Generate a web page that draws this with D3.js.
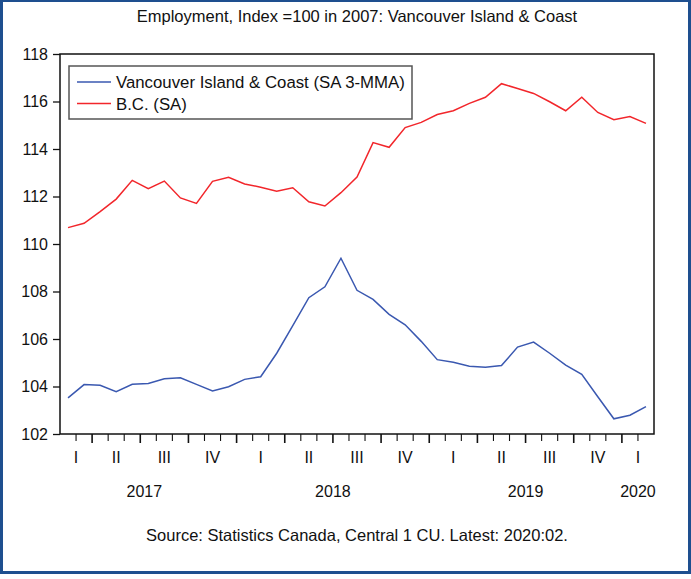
<!DOCTYPE html>
<html>
<head>
<meta charset="utf-8">
<script src="https://cdnjs.cloudflare.com/ajax/libs/d3/7.8.5/d3.min.js"></script>
<style>
  body { margin: 0; background: #fff; }
  text { font-family: "Liberation Sans", Arial, sans-serif; fill: #111; }
</style>
</head>
<body>
<div id="chart"></div>
<script>
var width = 691,
    height = 579;

// monthly, Feb 2017 .. Feb 2020
var startYear = 2017, startMonth = 2;
var islandValues = [103.52, 104.08, 104.05, 103.78, 104.09, 104.13, 104.33, 104.37, 104.09, 103.81,
  103.99, 104.30, 104.41, 105.40, 106.56, 107.74, 108.20, 109.40, 108.05, 107.67,
  107.04, 106.60, 105.90, 105.13, 105.02, 104.85, 104.81, 104.88, 105.66, 105.87,
  105.40, 104.90, 104.51, 103.57, 102.64, 102.79, 103.15];
var bcValues = [110.69, 110.87, 111.36, 111.89, 112.68, 112.33, 112.65, 111.94, 111.71, 112.64,
  112.81, 112.53, 112.39, 112.22, 112.37, 111.78, 111.60, 112.16, 112.82, 114.27,
  114.07, 114.90, 115.12, 115.45, 115.61, 115.92, 116.18, 116.75, 116.55, 116.34,
  115.99, 115.61, 116.18, 115.54, 115.23, 115.37, 115.08];
var seriesNames = ["Vancouver Island & Coast (SA 3-MMA)", "B.C. (SA)"];
var seriesColors = ["#3a58b0", "#f2262b"];
var yTicks = [102, 104, 106, 108, 110, 112, 114, 116, 118];
var quarterLabels = ["I", "II", "III", "IV"];
var titleText = "Employment, Index =100 in 2007: Vancouver Island & Coast";
var sourceText = "Source: Statistics Canada, Central 1 CU. Latest: 2020:02.";

var margin = {left: 60, right: 37, top: 54, bottom: 145};
var plotW = width - margin.left - margin.right,
    plotH = height - margin.top - margin.bottom;

var svg = d3.select("#chart")
    .append("svg")
    .attr("width", width)
    .attr("height", height);

// outer blue border
svg.append("rect")
    .attr("x", 1.5).attr("y", 0.5)
    .attr("width", 688).attr("height", 572)
    .attr("fill", "none")
    .attr("stroke", "#1e4f8f")
    .attr("stroke-width", 3);

var n = islandValues.length;
var x = d3.scaleLinear()
    .domain([-0.5, n - 0.5])
    .range([margin.left, margin.left + plotW]);
var y = d3.scaleLinear()
    .domain([102, 118])
    .range([margin.top + plotH, margin.top]);

svg.append("text")
    .attr("x", margin.left + plotW / 2)
    .attr("y", 22)
    .attr("text-anchor", "middle")
    .style("font-size", "16.5px")
    .text(titleText);

// y axis (ticks outside, left)
var yAxis = d3.axisLeft(y).tickValues(yTicks).tickSize(7).tickPadding(5);
var gy = svg.append("g")
    .attr("transform", "translate(" + margin.left + ",0)")
    .call(yAxis);
gy.select(".domain").remove();
gy.selectAll("line").attr("stroke", "#111").attr("stroke-width", 1.3);
gy.selectAll("text").style("font-size", "16px").style("font-family", "Liberation Sans, Arial, sans-serif").attr("fill", "#111");

// month boundary ticks along bottom
var bounds = d3.range(n - 1).map(function(i) { return i + 0.5; });
svg.selectAll(".mtick")
    .data(bounds)
    .enter().append("line")
    .attr("class", "mtick")
    .attr("x1", function(d) { return x(d); })
    .attr("x2", function(d) { return x(d); })
    .attr("y1", margin.top + plotH)
    .attr("y2", function(d) {
      var m = (startMonth - 1 + d + 0.5) % 3;
      return margin.top + plotH + (m === 0 ? 9 : 7);
    })
    .attr("stroke", "#111")
    .attr("stroke-width", function(d) {
      return (startMonth - 1 + d + 0.5) % 3 === 0 ? 1.6 : 1.1;
    });

// quarter and year labels
var months = d3.range(n).map(function(i) {
  var k = startMonth - 1 + i;
  return {i: i, year: startYear + Math.floor(k / 12), q: Math.floor((k % 12) / 3)};
});
var quarters = d3.groups(months, function(d) { return d.year + "-" + d.q; }).map(function(g) {
  return {q: g[1][0].q, c: d3.mean(g[1], function(d) { return d.i; })};
});
var years = d3.groups(months, function(d) { return d.year; }).map(function(g) {
  var c = d3.mean(g[1], function(d) { return d.i; });
  // first year is partly cut off: nudge toward the full-year centre
  if (g[1].length < 12 && g[1][0].i === 0) c -= (12 - g[1].length) / 4;
  return {year: g[0], c: c};
});

svg.selectAll(".qlabel")
    .data(quarters)
    .enter().append("text")
    .attr("class", "qlabel")
    .attr("x", function(d) { return x(d.c); })
    .attr("y", 463)
    .attr("text-anchor", "middle")
    .style("font-size", "16px")
    .text(function(d) { return quarterLabels[d.q]; });

svg.selectAll(".ylabel")
    .data(years)
    .enter().append("text")
    .attr("class", "ylabel")
    .attr("x", function(d) { return x(d.c); })
    .attr("y", 497)
    .attr("text-anchor", "middle")
    .style("font-size", "16px")
    .text(function(d) { return d.year; });

var line = d3.line()
    .x(function(d, i) { return x(i); })
    .y(function(d) { return y(d); });

[islandValues, bcValues].forEach(function(vals, k) {
  svg.append("path")
      .datum(vals)
      .attr("d", line)
      .attr("fill", "none")
      .attr("stroke", seriesColors[k])
      .attr("stroke-width", 1.5);
});

// plot frame
svg.append("rect")
    .attr("x", margin.left).attr("y", margin.top)
    .attr("width", plotW).attr("height", plotH)
    .attr("fill", "none")
    .attr("stroke", "#111")
    .attr("stroke-width", 1.5);

// legend
var legend = svg.append("g").attr("transform", "translate(69,66)");
legend.append("rect")
    .attr("width", 343).attr("height", 53)
    .attr("fill", "#fff")
    .attr("stroke", "#555")
    .attr("stroke-width", 1.5);
seriesNames.forEach(function(name, k) {
  var ly = 16 + k * 21.5;
  legend.append("line")
      .attr("x1", 8).attr("x2", 42)
      .attr("y1", ly).attr("y2", ly)
      .attr("stroke", seriesColors[k])
      .attr("stroke-width", 1.5);
  legend.append("text")
      .attr("x", 47).attr("y", ly + 6)
      .style("font-size", "16.8px")
      .text(name);
});

svg.append("text")
    .attr("x", margin.left + plotW / 2)
    .attr("y", 541)
    .attr("text-anchor", "middle")
    .style("font-size", "16.5px")
    .text(sourceText);
</script>
</body>
</html>
